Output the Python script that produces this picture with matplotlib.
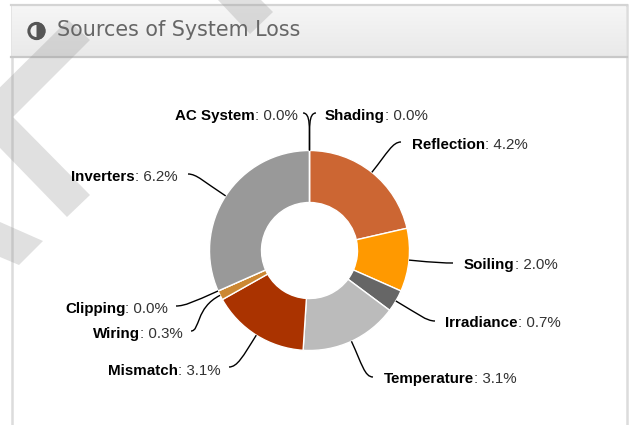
#!/usr/bin/env python3
"""Sources of System Loss donut, panel style."""
import numpy as np
import matplotlib
matplotlib.use("Agg")
import matplotlib.pyplot as plt  # noqa: E402
from matplotlib.patches import PathPatch, Polygon, Rectangle, Wedge, Circle  # noqa: E402
from matplotlib.path import Path  # noqa: E402

categories = ["Shading", "Reflection", "Soiling", "Irradiance", "Temperature",
              "Mismatch", "Wiring", "Clipping", "Inverters", "AC System"]
losses = [0.0, 4.2, 2.0, 0.7, 3.1, 3.1, 0.3, 0.0, 6.2, 0.0]
colors = ["#3366cc", "#cc6633", "#ff9900", "#666666", "#bbbbbb",
          "#aa3300", "#cc8833", "#999999", "#999999", "#555555"]

W, H = 632, 425
CX, CY, R_OUT, R_IN = 309.5, 250.5, 100, 48
# label left edge / centre y, and end of the connector (pixels from top left)
label_pos = {"Shading": (325, 116), "Reflection": (412, 145), "Soiling": (464, 265),
             "Irradiance": (445, 323), "Temperature": (384, 379), "Mismatch": (108, 371),
             "Wiring": (93, 334), "Clipping": (65, 309), "Inverters": (71, 177),
             "AC System": (175, 116)}
leader_end = {"Shading": (316, 113), "Reflection": (401, 142), "Soiling": (453, 263),
              "Irradiance": (435, 321), "Temperature": (373, 377), "Mismatch": (229, 367),
              "Wiring": (191, 331), "Clipping": (176, 306), "Inverters": (188, 174),
              "AC System": (303, 113)}

plt.rcParams["font.family"] = ["Liberation Sans", "DejaVu Sans"]
LABEL_SIZE = 10.9


def y_(py):
    return H - py


def draw_panel(ax):
    ax.add_patch(Rectangle((12, y_(430)), 615, 425, fc="white", ec="#dcdcdc", lw=1.8, zorder=1))
    grad = np.linspace(0, 1, 52)[:, None]
    ax.imshow(grad, extent=(12, 626, y_(57), y_(5)), cmap=matplotlib.colors.LinearSegmentedColormap.from_list(
        "hdr", ["#f6f6f6", "#e9e9e9"]), aspect="auto", zorder=2)
    ax.plot([11, 627], [y_(57), y_(57)], color="#c8c8c8", lw=1.6, zorder=3)
    ax.plot([11, 627], [y_(5), y_(5)], color="#d4d4d4", lw=1.6, zorder=3)
    ax.text(57, y_(30), "Sources of System Loss", family="DejaVu Sans", fontsize=14.9,
            color="#666666", va="center", zorder=4)
    ax.add_patch(Circle((36.5, y_(31)), 7.6, fc="none", ec="#555555", lw=2.2, zorder=5))
    ax.add_patch(Wedge((36.5, y_(31)), 8.8, -90, 90, fc="#555555", ec="none", zorder=5))


def draw_watermark(ax):
    bands = [
        [(68, 20), (90, 40), (13, 117), (90, 195), (67, 217), (-30, 117)],
        [(218, 0), (250, 34), (273, 12), (261, 0)],
        [(0, 222), (43, 241), (19, 265), (0, 257)],
    ]
    for pts in bands:
        ax.add_patch(Polygon([(x, y_(y)) for x, y in pts], closed=True, fc="#999999",
                             alpha=0.3, ec="none", zorder=3.5))


def draw_leader(ax, name, angle):
    x0 = CX + R_OUT * np.sin(angle)
    y0 = CY - R_OUT * np.cos(angle)
    x1, y1 = leader_end[name]
    dist = np.hypot(x1 - x0, y1 - y0)
    # leaves the donut radially, then bends level into the label
    c0 = (x0 + np.sin(angle) * dist * 0.6, y0 - np.cos(angle) * dist * 0.6)
    c1 = (x1 - np.sign(x1 - x0) * dist * 0.2, y1)
    verts = [(x0, y_(y0)), (c0[0], y_(c0[1])), (c1[0], y_(c1[1])), (x1, y_(y1))]
    codes = [Path.MOVETO, Path.CURVE4, Path.CURVE4, Path.CURVE4]
    ax.add_patch(PathPatch(Path(verts, codes), fc="none", ec="black", lw=1, zorder=6))


def draw_labels(ax):
    total = sum(losses)
    cum = 0.0
    for name, val in zip(categories, losses):
        angle = np.deg2rad((cum + val / 2) / total * 360)
        cum += val
        draw_leader(ax, name, angle)
        x, y = label_pos[name]
        head = ax.text(x, y_(y), name, fontsize=LABEL_SIZE, fontweight="bold",
                       color="black", va="center", zorder=7)
        ax.annotate(f": {val:.1f}%", xy=(1, 0), xycoords=head, va="bottom",
                    fontsize=LABEL_SIZE, color="#333333", zorder=7)


def main():
    fig = plt.figure(figsize=(W / 100, H / 100), dpi=100)
    ax = fig.add_axes([0, 0, 1, 1])
    draw_panel(ax)
    ax.pie(losses, colors=colors, startangle=90, counterclock=False, center=(CX, y_(CY)),
           radius=R_OUT, wedgeprops={"width": R_OUT - R_IN, "edgecolor": "white", "linewidth": 1},
           frame=True)
    draw_watermark(ax)
    draw_labels(ax)
    ax.set_xlim(0, W)
    ax.set_ylim(0, H)
    ax.set_aspect("auto")
    ax.axis("off")
    fig.savefig("out.png", dpi=100)
    plt.close(fig)


if __name__ == "__main__":
    main()
